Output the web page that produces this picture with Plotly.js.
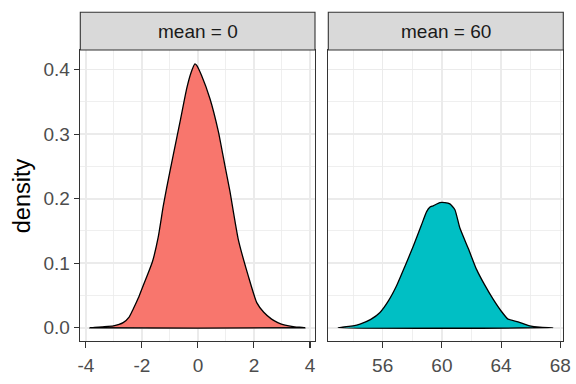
<!DOCTYPE html>
<html>
<head>
<meta charset="utf-8">
<script src="https://cdn.plot.ly/plotly-3.0.1.min.js"></script>
<style>html,body{margin:0;padding:0;background:#fff;}#chart{width:576px;height:384px;}</style>
</head>
<body>
<div id="chart"></div>
<script>
// Facet labels
const facetLabels = ["mean = 0", "mean = 60"];

// Density estimate, facet "mean = 0"
const x0 = [-3.86, -3.40, -3.02, -2.67, -2.45, -2.31, -2.13, -1.95, -1.80, -1.62, -1.42, -1.24, -1.12, -0.88, -0.64, -0.40, -0.25, -0.107, -0.05, 0.13, 0.43, 0.73, 0.96, 1.14, 1.44, 1.80, 2.10, 2.35, 2.63, 2.85, 3.11, 3.45, 3.82];
const y0 = [0.000, 0.0015, 0.003, 0.008, 0.017, 0.029, 0.046, 0.066, 0.082, 0.103, 0.140, 0.188, 0.216, 0.268, 0.319, 0.371, 0.395, 0.409, 0.407, 0.391, 0.355, 0.304, 0.252, 0.212, 0.137, 0.080, 0.039, 0.024, 0.0134, 0.008, 0.004, 0.0015, 0.000];

// Density estimate, facet "mean = 60"
const x60 = [53.0, 54.0, 54.47, 55.2, 55.82, 56.4, 56.94, 57.5, 58.06, 58.6, 58.97, 59.2, 59.41, 59.86, 60.2, 60.54, 60.88, 61.21, 61.8, 62.34, 62.9, 63.46, 64.0, 64.47, 65.14, 65.93, 66.6, 67.5];
const y60 = [0.000, 0.003, 0.0057, 0.013, 0.0237, 0.042, 0.065, 0.095, 0.126, 0.158, 0.180, 0.187, 0.189, 0.194, 0.194, 0.192, 0.183, 0.155, 0.122, 0.0905, 0.066, 0.0443, 0.026, 0.0134, 0.0093, 0.003, 0.0008, 0.000];

// Tick labels
const xTicks0 = [-4, -2, 0, 2, 4];
const xTickText0 = ["-4", "-2", "0", "2", "4"];
const xMinor0 = [-3, -1, 1, 3];
const xTicks60 = [56, 60, 64, 68];
const xTickText60 = ["56", "60", "64", "68"];
const xMinor60 = [54, 58, 62, 66];
const yTicks = [0, 0.1, 0.2, 0.3, 0.4];
const yTickText = ["0.0", "0.1", "0.2", "0.3", "0.4"];
const yMinor = [0.05, 0.15, 0.25, 0.35];
const yTitle = "density";

const W = 576, H = 384;
const FONT = "Liberation Sans, Arial, sans-serif";
const FS = 19;
const px = v => v / W;
const py = v => 1 - v / H;

function closed(arr) { return arr.concat([arr[0]]); }

const traces = [
  {x: closed(x0), y: closed(y0), xaxis: "x", yaxis: "y", type: "scatter", mode: "lines",
   fill: "toself", fillcolor: "#F8766D", line: {color: "#000000", width: 1.3, shape: "spline", smoothing: 0.5}, hoverinfo: "skip"},
  {x: closed(x60), y: closed(y60), xaxis: "x2", yaxis: "y2", type: "scatter", mode: "lines",
   fill: "toself", fillcolor: "#00BFC4", line: {color: "#000000", width: 1.3, shape: "spline", smoothing: 0.5}, hoverinfo: "skip"}
];

const panelTop = 50, panelBottom = 341;
const p1 = [80.3, 315], p2 = [328.3, 563.3];
const stripTop = 12.3;

function xax(dom, rng, tv, tt, minor) {
  return {
    domain: [px(dom[0]), px(dom[1])], range: rng, tickvals: tv, ticktext: tt,
    ticks: "outside", ticklen: 5.5, tickwidth: 1.1, tickcolor: "#333333",
    ticklabelstandoff: 2,
    showline: true, mirror: true, linecolor: "#333333", linewidth: 1.1,
    showgrid: true, gridcolor: "#EBEBEB", gridwidth: 1.6, zeroline: false,
    tickfont: {family: FONT, size: FS, color: "#4D4D4D"},
    minor: {tickvals: minor, showgrid: true, gridcolor: "#EBEBEB", gridwidth: 0.8, ticks: ""},
    fixedrange: true
  };
}
const yRange = [-0.0205, 0.4305];
const layout = {
  width: W, height: H,
  margin: {l: 0, r: 0, t: 0, b: 0},
  paper_bgcolor: "#FFFFFF", plot_bgcolor: "#FFFFFF",
  showlegend: false,
  font: {family: FONT},
  xaxis: Object.assign(xax(p1, [-4.2, 4.18], xTicks0, xTickText0, xMinor0), {anchor: "y"}),
  xaxis2: Object.assign(xax(p2, [52.33, 68.2], xTicks60, xTickText60, xMinor60), {anchor: "y2"}),
  yaxis: {
    domain: [py(panelBottom), py(panelTop)], range: yRange, anchor: "x",
    tickvals: yTicks, ticktext: yTickText,
    ticks: "outside", ticklen: 5.5, tickwidth: 1.1, tickcolor: "#333333",
    showline: true, mirror: true, linecolor: "#333333", linewidth: 1.1,
    showgrid: true, gridcolor: "#EBEBEB", gridwidth: 1.6, zeroline: false,
    tickfont: {family: FONT, size: FS, color: "#4D4D4D"},
    minor: {tickvals: yMinor, showgrid: true, gridcolor: "#EBEBEB", gridwidth: 0.8, ticks: ""},
    fixedrange: true
  },
  yaxis2: {
    domain: [py(panelBottom), py(panelTop)], range: yRange, anchor: "x2",
    tickvals: yTicks, showticklabels: false, ticks: "",
    showline: true, mirror: true, linecolor: "#333333", linewidth: 1.1,
    showgrid: true, gridcolor: "#EBEBEB", gridwidth: 1.6, zeroline: false,
    minor: {tickvals: yMinor, showgrid: true, gridcolor: "#EBEBEB", gridwidth: 0.8, ticks: ""},
    fixedrange: true
  },
  shapes: [p1, p2].map(p => ({
    type: "rect", xref: "paper", yref: "paper",
    x0: px(p[0]), x1: px(p[1]), y0: py(panelTop), y1: py(stripTop),
    fillcolor: "#D9D9D9", line: {color: "#333333", width: 1.1}, layer: "above"
  })),
  annotations: [
    {text: facetLabels[0], xref: "paper", yref: "paper", x: px((p1[0] + p1[1]) / 2), y: py((stripTop + panelTop) / 2),
     xanchor: "center", yanchor: "middle", showarrow: false, font: {family: FONT, size: FS, color: "#1A1A1A"}},
    {text: facetLabels[1], xref: "paper", yref: "paper", x: px((p2[0] + p2[1]) / 2), y: py((stripTop + panelTop) / 2),
     xanchor: "center", yanchor: "middle", showarrow: false, font: {family: FONT, size: FS, color: "#1A1A1A"}},
    {text: yTitle, xref: "paper", yref: "paper", x: px(21.7), y: py((panelTop + panelBottom) / 2),
     xanchor: "center", yanchor: "middle", textangle: -90, showarrow: false, font: {family: FONT, size: 23.5, color: "#000000"}}
  ]
};

Plotly.newPlot("chart", traces, layout, {staticPlot: true, displayModeBar: false});
</script>
</body>
</html>
